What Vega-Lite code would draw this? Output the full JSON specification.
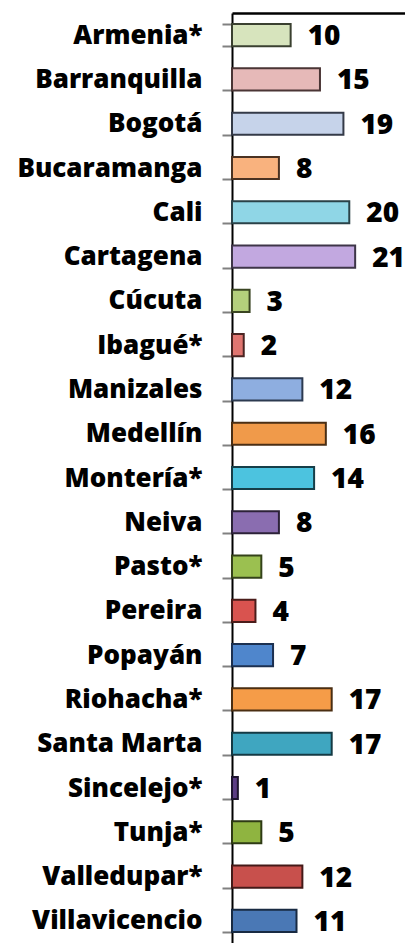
{
  "$schema": "https://vega.github.io/schema/vega-lite/v6.json",
  "autosize": "none",
  "width": 173,
  "height": 930,
  "padding": {"left": 232, "top": 13, "right": 0, "bottom": 0},
  "background": "white",
  "config": {"view": {"stroke": null}},
  "data": {"values": [
    {"city": "Armenia*", "value": 10},
    {"city": "Barranquilla", "value": 15},
    {"city": "Bogotá", "value": 19},
    {"city": "Bucaramanga", "value": 8},
    {"city": "Cali", "value": 20},
    {"city": "Cartagena", "value": 21},
    {"city": "Cúcuta", "value": 3},
    {"city": "Ibagué*", "value": 2},
    {"city": "Manizales", "value": 12},
    {"city": "Medellín", "value": 16},
    {"city": "Montería*", "value": 14},
    {"city": "Neiva", "value": 8},
    {"city": "Pasto*", "value": 5},
    {"city": "Pereira", "value": 4},
    {"city": "Popayán", "value": 7},
    {"city": "Riohacha*", "value": 17},
    {"city": "Santa Marta", "value": 17},
    {"city": "Sincelejo*", "value": 1},
    {"city": "Tunja*", "value": 5},
    {"city": "Valledupar*", "value": 12},
    {"city": "Villavicencio", "value": 11}
  ]},
  "encoding": {
    "y": {
      "field": "city", "type": "nominal", "sort": null,
      "scale": {"paddingInner": 0.5, "paddingOuter": 0.25},
      "axis": {
        "title": null, "domainColor": "black", "domainWidth": 2,
        "tickColor": "#808080", "tickSize": 10, "tickWidth": 2, "tickBand": "extent",
        "labelFont": "Open Sans", "labelFontWeight": 800, "labelFontSize": 26,
        "labelColor": "black", "labelPadding": 20, "labelLimit": 250
      }
    },
    "x": {
      "field": "value", "type": "quantitative",
      "scale": {"domain": [0, 29.5], "nice": false},
      "axis": {
        "orient": "top", "title": null, "labels": false, "ticks": false, "grid": false,
        "domainColor": "black", "domainWidth": 2.5
      }
    }
  },
  "layer": [
    {
      "mark": {"type": "bar", "strokeWidth": 2},
      "encoding": {
        "fill": {
          "field": "city", "type": "nominal", "sort": null, "legend": null,
          "scale": {"range": ["#d7e4bd", "#e6b9b8", "#c6d3ea", "#f9b27e", "#8fd6e6", "#c2a8e0", "#b4d07c", "#e07570", "#8eaee0", "#f09a4a", "#4cc3df", "#8a6db0", "#9bc050", "#d9534f", "#4f86cc", "#f59c48", "#3fa6c0", "#5c3d85", "#8fb440", "#c8504c", "#4a78b5"]}
        },
        "stroke": {
          "field": "city", "type": "nominal", "sort": null, "legend": null,
          "scale": {"range": ["#3a4030", "#4a3535", "#343a48", "#4a3222", "#2a4248", "#3e3548", "#3a4522", "#4a2422", "#2c3a50", "#4a2e14", "#163e48", "#2c2238", "#34421a", "#4a1c1a", "#1c3050", "#4a2e12", "#143a44", "#1e1430", "#2e3a14", "#441a18", "#182a42"]}
        }
      }
    },
    {
      "mark": {"type": "text", "align": "left", "baseline": "middle", "dx": 17, "dy": 2, "font": "Open Sans", "fontWeight": 800, "fontSize": 28, "color": "black"},
      "encoding": {"text": {"field": "value", "type": "quantitative"}}
    }
  ]
}
